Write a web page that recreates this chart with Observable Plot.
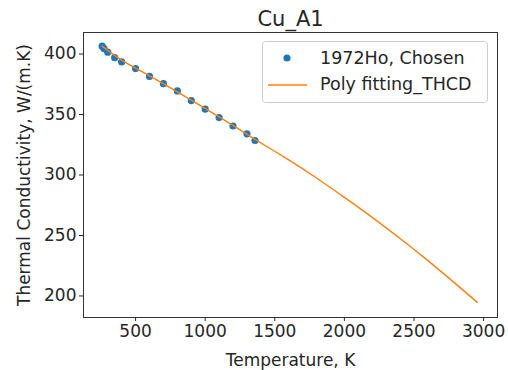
<!DOCTYPE html>
<html>
<head>
<meta charset="utf-8">
<script src="https://cdn.jsdelivr.net/npm/d3@7"></script>
<script src="https://cdn.jsdelivr.net/npm/@observablehq/plot@0.6"></script>
<style>
  html, body { margin: 0; padding: 0; background: #fff; }
  #chart { position: relative; width: 508px; height: 370px; overflow: hidden; }
  svg { font-family: "DejaVu Sans", sans-serif; }
</style>
</head>
<body>
<div id="chart"></div>
<script>
const titleText = "Cu_A1";
const xLabel = "Temperature, K";
const yLabel = "Thermal Conductivity, W/(m.K)";
const seriesNames = ["1972Ho, Chosen", "Poly fitting_THCD"];
const xTicks = [500, 1000, 1500, 2000, 2500, 3000];
const yTicks = [200, 250, 300, 350, 400];

// 1972Ho chosen data
const chosenT = [260, 273, 300, 350, 400, 500, 600, 700, 800, 900, 1000, 1100, 1200, 1300, 1358];
const chosenK = [406.5, 404.5, 401.5, 397, 393.5, 388, 381.5, 375.5, 369.5, 361.5, 354.5, 347.5, 340.5, 334, 328.5];

// Polynomial fit curve
const fitT = [260, 400, 600, 800, 1000, 1200, 1358, 1600, 1800, 2000, 2200, 2400, 2600, 2800, 2955];
const fitK = [406.5, 395, 382, 368.8, 355, 341, 329.5, 312.5, 297.5, 281.5, 265, 247.5, 229.2, 210, 194.7];

const chosen = chosenT.map((t, i) => ({T: t, K: chosenK[i]}));
const fit = fitT.map((t, i) => ({T: t, K: fitK[i]}));

const blue = "#1f77b4", orange = "#ff7f0e", ink = "#262626";

const plot = Plot.plot({
  width: 508,
  height: 370,
  marginLeft: 83,
  marginRight: 11,
  marginTop: 32,
  marginBottom: 53,
  style: {fontFamily: "DejaVu Sans, sans-serif", color: ink, background: "#fff"},
  x: {domain: [126, 3100]},
  y: {domain: [182.2, 417.8]},
  marks: [
    Plot.dot(chosen, {x: "T", y: "K", r: 3.6, fill: blue, stroke: "none"}),
    Plot.line(fit, {x: "T", y: "K", stroke: orange, strokeWidth: 1.4, curve: "natural"}),
    Plot.frame({stroke: "#333", strokeWidth: 1}),
    Plot.axisX({ticks: xTicks, tickSize: 4, tickPadding: 3, fontSize: 17, label: xLabel, labelAnchor: "center", labelArrow: "none", labelOffset: 48, tickFormat: d => String(d)}),
    Plot.axisY({ticks: yTicks, tickSize: 4, tickPadding: 3, fontSize: 17, label: yLabel, labelAnchor: "center", labelArrow: "none", labelOffset: 66, tickFormat: d => String(d)}),
    Plot.text([titleText], {frameAnchor: "top", lineAnchor: "bottom", dy: -7, fontSize: 21, fill: ink})
  ]
});
document.getElementById("chart").appendChild(plot);

// Legend (drawn into the SVG)
const svg = d3.select(plot);
const lg = svg.append("g").attr("class", "legend").attr("text-anchor", "start");
lg.append("rect").attr("x", 262.5).attr("y", 41.5).attr("width", 225).attr("height", 61)
  .attr("rx", 3).attr("fill", "#fff").attr("fill-opacity", 0.85).attr("stroke", "#cccccc").attr("stroke-width", 1);
lg.append("circle").attr("cx", 287).attr("cy", 58).attr("r", 3.6).attr("fill", blue);
lg.append("line").attr("x1", 268).attr("x2", 307).attr("y1", 85).attr("y2", 85).attr("stroke", orange).attr("stroke-width", 1.4);
lg.append("text").attr("x", 320).attr("y", 64).attr("font-size", 17.5).attr("fill", ink).attr("text-anchor", "start").text(seriesNames[0]);
lg.append("text").attr("x", 320).attr("y", 90).attr("font-size", 17.5).attr("fill", ink).attr("text-anchor", "start").text(seriesNames[1]);
</script>
</body>
</html>
